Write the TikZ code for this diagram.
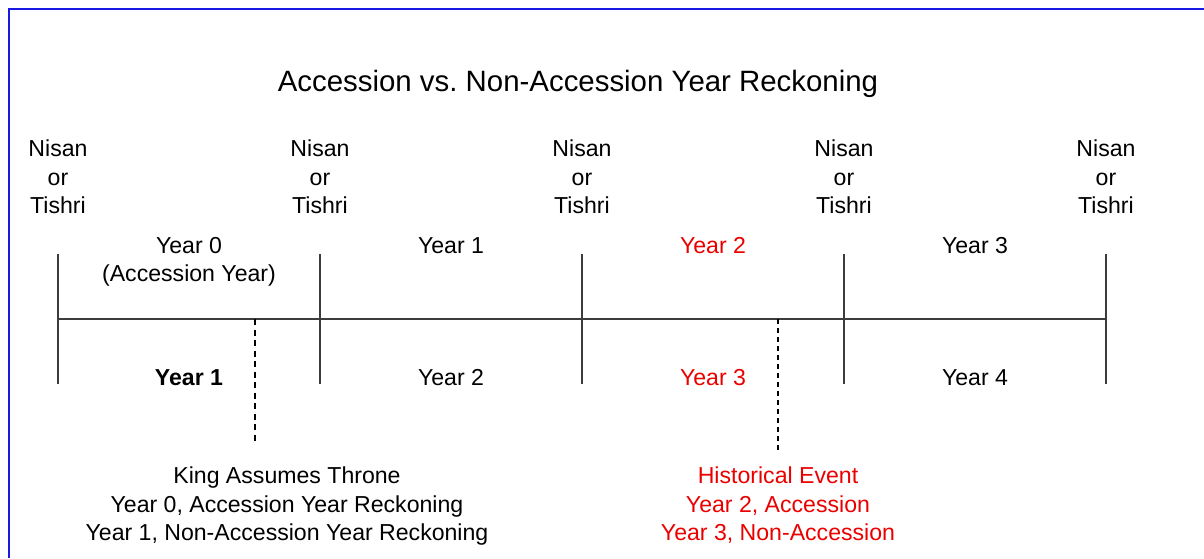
\documentclass[tikz,border=0pt]{standalone}
\usepackage{fontspec}
\setmainfont{Liberation Sans}
\frenchspacing
\definecolor{frameblue}{RGB}{25,25,225}
\definecolor{eventred}{RGB}{235,0,0}
\definecolor{linegray}{RGB}{60,60,60}
\tikzset{
  lbl/.style={font=\fontsize{23.1}{28.5}\selectfont, align=center, inner sep=0pt, anchor=north},
  axis/.style={line width=1.6pt, draw=linegray},
  marker/.style={line width=1.6pt, dash pattern=on 6pt off 4.5pt},
}

\begin{document}
\begin{tikzpicture}[x=1pt, y=-1pt]
  \useasboundingbox (0,0) rectangle (1204,558);
  \draw[frameblue, line width=1.5pt] (9,558) -- (9,9) -- (1204,9);

  \node[lbl, font=\fontsize{29.4}{35}\selectfont] (title) at (578,69.5)
    {Accession vs. Non-Accession Year Reckoning};

  % new year boundaries
  \foreach \i/\x in {0/58,1/320,2/582,3/844,4/1106} {
    \node[lbl] (nt\i) at (\x,140) {Nisan\\or\\Tishri};
    \coordinate (top\i) at (\x,254);
    \coordinate (mid\i) at (\x,319);
    \coordinate (bot\i) at (\x,384);
    \draw[axis] (top\i) -- (bot\i);
  }
  \draw[axis] (mid0) -- (mid4);

  % accession reckoning (above)
  \node[lbl] (acc0) at (189,237) {Year 0\\(Accession Year)};
  \node[lbl] (acc1) at (451,237) {Year 1};
  \node[lbl, text=eventred] (acc2) at (713,237) {Year 2};
  \node[lbl] (acc3) at (975,237) {Year 3};

  % non-accession reckoning (below)
  \node[lbl, font=\fontsize{23.1}{28.5}\selectfont\bfseries] (non1) at (189,369) {Year 1};
  \node[lbl] (non2) at (451,369) {Year 2};
  \node[lbl, text=eventred] (non3) at (713,369) {Year 3};
  \node[lbl] (non4) at (975,369) {Year 4};

  % king and event markers
  \coordinate (kingtop) at (255,319);
  \coordinate (kingend) at (255,445);
  \draw[marker] (kingtop) -- (kingend);
  \node[lbl] (king) at (287,467)
    {King Assumes Throne\\Year 0, Accession Year Reckoning\\Year 1, Non-Accession Year Reckoning};

  \coordinate (eventtop) at (778,319);
  \coordinate (eventend) at (778,450);
  \draw[marker, line width=1.2pt, dash pattern=on 5pt off 4pt] (eventtop) -- (eventend);
  \node[lbl, text=eventred] (event) at (778,467)
    {Historical Event\\Year 2, Accession\\Year 3, Non-Accession};
\end{tikzpicture}
\end{document}
